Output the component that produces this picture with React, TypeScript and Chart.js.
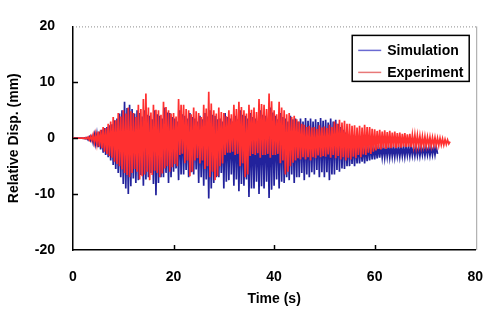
import { useEffect, useRef } from "react";
import { Chart, registerables } from "chart.js";

Chart.register(...registerables);

// ---- data ----
const SAMPLE_STEP_S = 0.25;
const X_TICKS = [0, 20, 40, 60, 80];
const Y_TICKS = [-20, -10, 0, 10, 20];
const SERIES_NAMES = ["Simulation", "Experiment"];
const X_TITLE = "Time (s)";
const Y_TITLE = "Relative Disp. (mm)";

// relative displacement (mm), one row per second, 4 samples per second
const SIMULATION = [
  0, 0, 0, 0,
  0, 0, 0, 0,
  -0.05, 0.05, -0.1, 0.1,
  -0.3, 0.2, -0.4, 0.3,
  -0.8, 0.6, -1.0, 0.7,
  -1.6, 1.2, -2.0, 1.5,
  -2.6, 1.8, -3.0, 2.0,
  -3.4, 2.3, -4.0, 2.5,
  -4.8, 3.2, -5.5, 3.5,
  -6.2, 4.4, -7.0, 5.0,
  -8.2, 6.5, -9.0, 5.4,
  -10.0, 6.0, -8.6, 5.2,
  -7.2, 4.4, -8.0, 5.0,
  -7.5, 4.5, -6.6, 3.9,
  -8.5, 5.0, -7.4, 4.2,
  -7.0, 4.0, -6.2, 3.4,
  -8.2, 5.0, -10.2, 4.3,
  -8.0, 4.0, -7.0, 3.5,
  -7.0, 5.5, -6.2, 4.6,
  -8.0, 4.5, -7.0, 3.8,
  -6.0, 3.5, -5.4, 3.0,
  -7.5, 5.0, -6.5, 4.3,
  -6.5, 4.0, -5.7, 3.5,
  -7.0, 4.5, -6.1, 3.8,
  -6.5, 3.5, -5.6, 3.0,
  -8.0, 4.0, -7.0, 3.4,
  -8.5, 4.5, -7.4, 3.9,
  -10.8, 5.0, -9.0, 4.2,
  -8.0, 4.0, -7.0, 3.4,
  -7.0, 3.5, -6.2, 3.0,
  -9.0, 4.5, -7.8, 3.8,
  -7.5, 3.5, -6.5, 3.0,
  -8.5, 4.0, -7.4, 3.4,
  -9.5, 5.0, -8.2, 4.2,
  -8.5, 4.0, -7.4, 3.5,
  -10.5, 4.5, -9.0, 3.8,
  -9.0, 3.5, -7.8, 3.0,
  -10.0, 5.0, -8.6, 4.2,
  -9.0, 4.0, -7.8, 3.4,
  -10.7, 5.5, -9.2, 4.6,
  -8.5, 4.0, -7.4, 3.4,
  -9.0, 4.5, -7.8, 3.8,
  -8.0, 3.5, -7.0, 3.0,
  -7.5, 4.0, -6.5, 3.4,
  -8.0, 3.5, -7.0, 3.0,
  -7.0, 3.5, -6.2, 3.0,
  -7.5, 3.6, -6.5, 3.1,
  -7.0, 3.5, -6.1, 3.0,
  -6.5, 3.4, -5.7, 2.9,
  -7.0, 3.6, -6.1, 3.1,
  -7.0, 3.3, -6.1, 2.8,
  -7.5, 3.5, -6.5, 3.0,
  -6.5, 3.3, -5.7, 2.6,
  -6.0, 2.0, -5.4, 1.5,
  -5.5, 1.0, -5.0, 0.6,
  -5.0, 0.0, -4.6, -0.3,
  -5.0, -0.5, -4.5, -0.6,
  -4.5, -0.8, -4.2, -0.9,
  -4.5, -1.0, -4.1, -1.0,
  -4.0, -1.0, -3.8, -1.1,
  -3.8, -1.2, -3.6, -1.2,
  -3.5, -1.3, -3.4, -1.3,
  -3.5, -1.3, -3.3, -1.3,
  -3.4, -1.3, -3.3, -1.4,
  -3.4, -1.4, -3.2, -1.4,
  -3.3, -1.4, -3.2, -1.4,
  -3.3, -1.4, -3.1, -1.4,
  -3.2, -1.4, -3.1, -1.5,
  -3.2, -1.5, -3.1, -1.5,
  -3.2, -1.5, -3.0, -1.5,
  -3.1, -1.5, -3.0, -1.5,
  -3.1, -1.5, -3.0, -1.5,
  -3.0, -1.5, -2.8,
];

const EXPERIMENT = [
  0, 0, 0, 0,
  0, 0, 0, 0,
  0.05, -0.08, 0.1, -0.12,
  0.2, -0.3, 0.35, -0.4,
  0.6, -0.8, 0.7, -1.0,
  1.2, -1.5, 1.5, -1.8,
  2.0, -2.4, 1.8, -2.8,
  2.6, -3.2, 3.0, -3.5,
  3.8, -4.2, 3.2, -4.6,
  4.5, -5.0, 3.9, -5.6,
  5.0, -6.2, 4.4, -6.6,
  5.5, -7.0, 4.8, -6.2,
  4.5, -5.5, 3.8, -6.0,
  6.0, -7.4, 5.2, -6.8,
  7.0, -6.5, 8.0, -6.0,
  5.5, -7.5, 4.6, -6.6,
  6.0, -5.8, 5.1, -6.2,
  5.0, -7.0, 4.2, -6.3,
  6.5, -5.4, 5.6, -5.0,
  5.0, -6.0, 4.4, -5.2,
  4.5, -4.6, 3.9, -5.0,
  7.0, -3.0, 6.0, -2.8,
  6.0, -4.5, 5.2, -4.0,
  5.0, -6.8, 4.3, -6.0,
  5.5, -4.0, 4.8, -3.6,
  4.5, -4.5, 3.8, -4.0,
  6.0, -5.5, 5.3, -5.0,
  8.3, -7.0, 6.2, -6.0,
  5.0, -7.5, 4.4, -6.8,
  5.5, -5.0, 4.7, -4.5,
  4.5, -3.0, 3.9, -2.6,
  5.0, -2.6, 4.3, -2.4,
  6.0, -3.0, 5.2, -2.8,
  6.5, -5.0, 5.6, -4.5,
  5.0, -7.0, 4.4, -6.5,
  6.0, -3.2, 5.1, -2.8,
  5.5, -3.0, 4.7, -2.7,
  7.0, -3.5, 6.1, -3.0,
  6.0, -3.0, 5.2, -2.8,
  8.0, -3.5, 6.6, -3.0,
  5.0, -3.0, 4.3, -2.8,
  6.5, -4.5, 5.5, -4.0,
  5.0, -6.5, 4.3, -6.0,
  4.5, -5.0, 3.8, -4.4,
  4.0, -4.0, 3.4, -3.6,
  3.0, -3.8, 2.6, -3.4,
  2.4, -3.8, 2.0, -3.4,
  2.2, -4.0, 1.9, -3.4,
  2.0, -3.6, 1.7, -3.1,
  2.3, -3.4, 1.9, -3.2,
  2.1, -3.3, 1.8, -2.9,
  2.4, -3.5, 2.0, -3.0,
  3.0, -3.6, 2.6, -3.2,
  3.3, -3.8, 2.8, -3.4,
  3.1, -4.0, 2.6, -3.5,
  2.6, -3.8, 2.2, -3.3,
  2.3, -3.6, 1.9, -3.0,
  2.2, -3.4, 1.9, -2.9,
  2.4, -3.0, 2.0, -2.6,
  2.0, -2.8, 1.7, -2.4,
  1.6, -2.2, 1.3, -1.9,
  1.5, -2.0, 1.2, -1.8,
  1.4, -1.9, 1.1, -1.7,
  1.3, -1.8, 1.0, -1.6,
  1.2, -1.8, 0.9, -1.6,
  1.0, -1.7, 0.8, -1.5,
  0.9, -1.6, 0.7, -1.5,
  0.8, -1.6, 0.6, -1.4,
  0.6, -1.5, 0.5, -1.4,
  0.4, -1.5, 0.3, -1.4,
  0.3, -1.4, 0.2, -1.3,
  0.2, -1.4, 0.1, -1.3,
  0.1, -1.3, 0.0, -1.3,
  0.0, -1.2, -0.1, -1.2,
  -0.2, -1.1, -0.3, -1.0,
  -0.6,
];

// ---- style ----
const FONT_FAMILY = "'Liberation Sans', Arial, sans-serif";
const SIM_COLOR = "#22229c";
const EXP_COLOR = "#ff3030";
const SIM_LEGEND_COLOR = "#6a6ad2";
const EXP_LEGEND_COLOR = "#e87878";

const toPoints = (arr: number[]) =>
  arr.map((y, i) => ({ x: i * SAMPLE_STEP_S, y }));

const decorPlugin = {
  id: "decor",
  afterDraw(chart: any) {
    const { ctx, chartArea: a, scales } = chart;
    const xs = scales.x;
    const ys = scales.y;
    ctx.save();
    // top dotted frame line
    ctx.strokeStyle = "#8c8c8c";
    ctx.lineWidth = 1;
    ctx.setLineDash([1, 2]);
    ctx.beginPath();
    ctx.moveTo(a.left, a.top + 0.5);
    ctx.lineTo(a.right + 2, a.top + 0.5);
    ctx.stroke();
    ctx.setLineDash([]);
    // right frame line
    ctx.strokeStyle = "#a0a0a0";
    ctx.beginPath();
    ctx.moveTo(a.right + 1.5, a.top);
    ctx.lineTo(a.right + 1.5, a.bottom);
    ctx.stroke();
    // inward tick marks
    ctx.strokeStyle = "#000";
    ctx.lineWidth = 1.5;
    X_TICKS.slice(1, -1).forEach((v) => {
      const px = Math.round(xs.getPixelForValue(v)) + 0.5;
      ctx.beginPath();
      ctx.moveTo(px, a.bottom);
      ctx.lineTo(px, a.bottom - 5);
      ctx.stroke();
    });
    Y_TICKS.slice(1, -1).forEach((v) => {
      const py = Math.round(ys.getPixelForValue(v)) + 0.5;
      ctx.beginPath();
      ctx.moveTo(a.left, py);
      ctx.lineTo(a.left + 5, py);
      ctx.stroke();
    });
    // legend box
    const bx = a.right - 123;
    const by = a.top + 9;
    const bw = 117;
    const bh = 46;
    ctx.fillStyle = "#fff";
    ctx.fillRect(bx, by, bw, bh);
    ctx.strokeStyle = "#000";
    ctx.lineWidth = 1.5;
    ctx.strokeRect(bx, by, bw, bh);
    const rows = [
      { name: SERIES_NAMES[0], color: SIM_LEGEND_COLOR, y: by + 15 },
      { name: SERIES_NAMES[1], color: EXP_LEGEND_COLOR, y: by + 37 },
    ];
    ctx.font = `bold 14px ${FONT_FAMILY}`;
    ctx.textBaseline = "middle";
    ctx.textAlign = "left";
    rows.forEach((r) => {
      ctx.strokeStyle = r.color;
      ctx.lineWidth = 1.5;
      ctx.beginPath();
      ctx.moveTo(bx + 6, r.y);
      ctx.lineTo(bx + 29, r.y);
      ctx.stroke();
      ctx.fillStyle = "#000";
      ctx.fillText(r.name, bx + 35, r.y + 1);
    });
    ctx.restore();
  },
};

export default function App() {
  const canvasRef = useRef<HTMLCanvasElement | null>(null);

  useEffect(() => {
    if (!canvasRef.current) return;
    const chart = new Chart(canvasRef.current, {
      type: "line",
      data: {
        datasets: [
          {
            label: SERIES_NAMES[0],
            data: toPoints(SIMULATION),
            borderColor: SIM_COLOR,
            borderWidth: 1.7,
            pointRadius: 0,
            tension: 0,
            order: 2,
          },
          {
            label: SERIES_NAMES[1],
            data: toPoints(EXPERIMENT),
            borderColor: EXP_COLOR,
            borderWidth: 1.7,
            pointRadius: 0,
            tension: 0,
            order: 1,
          },
        ],
      },
      options: {
        animation: false,
        responsive: true,
        maintainAspectRatio: false,
        layout: { padding: { top: 23, right: 22, left: 0, bottom: 0 } },
        plugins: { legend: { display: false }, tooltip: { enabled: false } },
        scales: {
          x: {
            type: "linear",
            min: X_TICKS[0],
            max: X_TICKS[X_TICKS.length - 1],
            afterBuildTicks: (s: any) => {
              s.ticks = X_TICKS.map((v) => ({ value: v }));
            },
            ticks: {
              color: "#000",
              font: { family: FONT_FAMILY, size: 14, weight: "bold" },
              padding: 19,
              maxRotation: 0,
            },
            grid: { display: false, drawTicks: false },
            border: { display: true, color: "#000", width: 1.5 },
            title: {
              display: true,
              text: X_TITLE,
              color: "#000",
              font: { family: FONT_FAMILY, size: 14, weight: "bold" },
              padding: { top: 0, bottom: 16 },
            },
            afterFit: (s: any) => {
              s.height = 74;
            },
          },
          y: {
            type: "linear",
            min: Y_TICKS[0],
            max: Y_TICKS[Y_TICKS.length - 1],
            afterBuildTicks: (s: any) => {
              s.ticks = Y_TICKS.map((v) => ({ value: v }));
            },
            ticks: {
              color: "#000",
              font: { family: FONT_FAMILY, size: 14, weight: "bold" },
              padding: 18,
            },
            grid: { display: false, drawTicks: false },
            border: { display: true, color: "#000", width: 1.5 },
            title: {
              display: true,
              text: Y_TITLE,
              color: "#000",
              font: { family: FONT_FAMILY, size: 14, weight: "bold" },
              padding: { top: 6, bottom: 0 },
            },
            afterFit: (s: any) => {
              s.width = 73;
            },
          },
        },
      },
      plugins: [decorPlugin],
    });
    return () => chart.destroy();
  }, []);

  return (
    <div
      style={{
        position: "fixed",
        left: 0,
        top: 0,
        width: 502,
        height: 324,
        background: "#fff",
      }}
    >
      <canvas ref={canvasRef} />
    </div>
  );
}
